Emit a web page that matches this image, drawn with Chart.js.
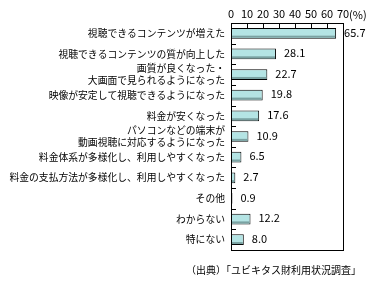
<!DOCTYPE html>
<html>
<head>
<meta charset="utf-8">
<script src="https://cdn.jsdelivr.net/npm/chart.js@4.4.1/dist/chart.umd.min.js"></script>
<style>
html,body{margin:0;padding:0;background:#fff;}
#wrap{width:387px;height:283px;}
</style>
</head>
<body>
<div id="wrap"><canvas id="c" width="387" height="283"></canvas></div>
<script>
const categories = [
  "視聴できるコンテンツが増えた",
  "視聴できるコンテンツの質が向上した",
  ["画質が良くなった・", "大画面で見られるようになった"],
  "映像が安定して視聴できるようになった",
  "料金が安くなった",
  ["パソコンなどの端末が", "動画視聴に対応するようになった"],
  "料金体系が多様化し、利用しやすくなった",
  "料金の支払方法が多様化し、利用しやすくなった",
  "その他",
  "わからない",
  "特にない"
];
const values = [65.7, 28.1, 22.7, 19.8, 17.6, 10.9, 6.5, 2.7, 0.9, 12.2, 8.0];
const xTicks = [0, 10, 20, 30, 40, 50, 60, 70];
const unitLabel = "(%)";
const sourceText = "（出典）「ユビキタス財利用状況調査」";

const JP = '"Noto Sans CJK JP", "Noto Sans", sans-serif';

const decor = {
  id: 'decor',
  afterDatasetsDraw(chart) {
    const ctx = chart.ctx;
    const meta = chart.getDatasetMeta(0);
    ctx.save();
    meta.data.forEach((bar, i) => {
      const x0 = Math.min(bar.base, bar.x), x1 = Math.max(bar.base, bar.x);
      const yb = bar.y + bar.height / 2;
      if (x1 - x0 > 2) {
        ctx.fillStyle = '#7aa2a2';
        ctx.fillRect(x0 + 1, yb - 3, x1 - x0 - 2, 2);
      }
    });
    ctx.restore();
  },
  afterDraw(chart) {
    const ctx = chart.ctx;
    const a = chart.chartArea;
    const xs = chart.scales.x, ys = chart.scales.y;
    ctx.save();
    ctx.strokeStyle = '#000';
    ctx.lineWidth = 1;
    ctx.strokeRect(Math.round(a.left) + 0.5, Math.round(a.top) + 0.5,
      Math.round(a.right - a.left), Math.round(a.bottom - a.top));
    ctx.beginPath();
    xTicks.forEach(v => {
      const x = Math.round(xs.getPixelForValue(v)) + 0.5;
      ctx.moveTo(x, Math.round(a.top));
      ctx.lineTo(x, Math.round(a.top) + 5);
    });
    for (let i = 1; i < categories.length; i++) {
      const y = Math.round((ys.getPixelForValue(i - 1) + ys.getPixelForValue(i)) / 2) + 0.5;
      ctx.moveTo(Math.round(a.left), y);
      ctx.lineTo(Math.round(a.left) + 5, y);
    }
    ctx.stroke();
    // value labels
    const meta = chart.getDatasetMeta(0);
    ctx.fillStyle = '#000';
    ctx.font = '11px ' + JP;
    ctx.textAlign = 'left';
    ctx.textBaseline = 'middle';
    meta.data.forEach((bar, i) => {
      const x1 = Math.max(bar.base, bar.x);
      ctx.fillText(values[i].toFixed(1), x1 + 8, bar.y - 1);
    });
    // unit
    ctx.font = '11px ' + JP;
    const x70 = xs.getPixelForValue(70);
    const w70 = ctx.measureText('70').width;
    ctx.fillText(unitLabel, x70 + w70 / 2, 15);
    // source
    ctx.font = '10px ' + JP;
    ctx.textAlign = 'right';
    ctx.fillText(sourceText, 361, 270);
    ctx.restore();
  }
};

new Chart(document.getElementById('c'), {
  type: 'bar',
  data: {
    labels: categories,
    datasets: [{
      data: values,
      backgroundColor: '#b4e4e4',
      borderColor: '#000',
      borderWidth: 1,
      borderSkipped: false,
      barPercentage: 0.52,
      categoryPercentage: 1.0
    }]
  },
  options: {
    indexAxis: 'y',
    responsive: false,
    animation: false,
    events: [],
    layout: { padding: { left: 0, right: 44, top: 0, bottom: 33 } },
    plugins: { legend: { display: false }, tooltip: { enabled: false } },
    scales: {
      x: {
        position: 'top',
        min: 0, max: 70,
        afterBuildTicks(s) { s.ticks = xTicks.map(v => ({ value: v })); },
        afterFit(s) { s.height = 23; },
        grid: { display: false, drawTicks: false },
        border: { display: false },
        ticks: { color: '#000', padding: 3, autoSkip: false, maxRotation: 0, minRotation: 0,
                 font: { size: 11, family: JP } }
      },
      y: {
        afterFit(s) { s.width = 231; },
        grid: { display: false, drawTicks: false },
        border: { display: false },
        ticks: { color: '#000', autoSkip: false, padding: 6, font: { size: 9.8, family: JP, lineHeight: 1.2 } }
      }
    }
  },
  plugins: [decor]
});
</script>
</body>
</html>
